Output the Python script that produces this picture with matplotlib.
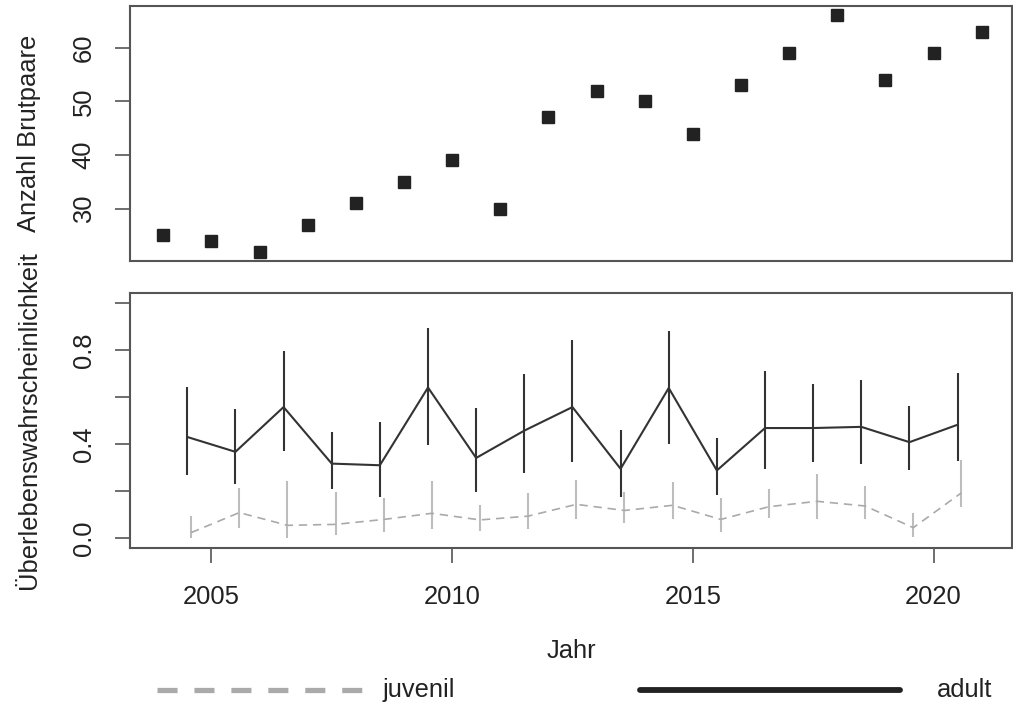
import matplotlib
matplotlib.use("Agg")
import matplotlib.pyplot as plt
from matplotlib.lines import Line2D
import numpy as np

plt.rcParams['font.family'] = ['Liberation Sans', 'DejaVu Sans']

# ---- data ----
years = [2004, 2005, 2006, 2007, 2008, 2009, 2010, 2011, 2012,
         2013, 2014, 2015, 2016, 2017, 2018, 2019, 2020, 2021]
brutpaare = [25, 24, 22, 27, 31, 35, 39, 30, 47, 52, 50, 44, 53, 59, 66, 54, 59, 63]

surv_years = [2004, 2005, 2006, 2007, 2008, 2009, 2010, 2011, 2012,
              2013, 2014, 2015, 2016, 2017, 2018, 2019, 2020]
adult_mean = [0.430, 0.367, 0.557, 0.317, 0.310, 0.640, 0.341, 0.457, 0.557,
              0.295, 0.638, 0.288, 0.468, 0.468, 0.473, 0.408, 0.482]
adult_lo = [0.267, 0.229, 0.370, 0.210, 0.175, 0.398, 0.197, 0.278, 0.323,
            0.176, 0.402, 0.182, 0.295, 0.325, 0.317, 0.288, 0.327]
adult_hi = [0.642, 0.550, 0.796, 0.453, 0.495, 0.892, 0.554, 0.698, 0.842,
            0.461, 0.882, 0.426, 0.712, 0.656, 0.673, 0.560, 0.701]
juv_mean = [0.024, 0.109, 0.055, 0.059, 0.080, 0.106, 0.078, 0.094, 0.144,
            0.118, 0.140, 0.080, 0.134, 0.157, 0.137, 0.045, 0.193]
juv_lo = [0.003, 0.045, 0.003, 0.013, 0.027, 0.041, 0.031, 0.041, 0.080,
          0.063, 0.080, 0.028, 0.085, 0.083, 0.080, 0.007, 0.134]
juv_hi = [0.094, 0.214, 0.243, 0.198, 0.172, 0.245, 0.140, 0.193, 0.247,
          0.196, 0.238, 0.172, 0.210, 0.274, 0.221, 0.106, 0.331]

x_ticks = [2005, 2010, 2015, 2020]
top_yticks = [30, 40, 50, 60]
bot_yticks = [0.0, 0.2, 0.4, 0.6, 0.8, 1.0]
bot_yticklabels = ["0.0", "", "0.4", "", "0.8", ""]

# ---- figure ----
W, H = 1013, 709
fig = plt.figure(figsize=(W / 100, H / 100), dpi=100)
FS = 18.4
frame_c = '#555555'
text_c = '#222222'

def px_axes(l, r, t, b):
    return fig.add_axes([l / W, (H - b) / H, (r - l) / W, (b - t) / H])

ax1 = px_axes(130, 1012, 6, 261)
ax2 = px_axes(130, 1012, 293.3, 547.7)

xlim = (2003.31, 2021.63)

for ax in (ax1, ax2):
    for s in ax.spines.values():
        s.set_color(frame_c)
        s.set_linewidth(1.5)
    ax.set_xlim(*xlim)
    ax.tick_params(axis='both', length=10.8, width=1.2, color=frame_c,
                   labelsize=FS, labelcolor=text_c)
    ax.tick_params(axis='y', pad=14)
    ax.tick_params(axis='x', pad=16)

# top panel
yrs = np.array(years)
ax1.plot(yrs, brutpaare, linestyle='none', marker='s', markersize=8.6,
         color='#222222')
ax1.set_ylim(20.24, 67.76)
ax1.set_yticks(top_yticks)
ax1.set_xticks([])
for lab in ax1.get_yticklabels():
    lab.set_rotation(90)
    lab.set_va('center')
ax1.set_ylabel("Anzahl Brutpaare", fontsize=FS, color=text_c, labelpad=22)

# bottom panel
sy = np.array(surv_years)
xa = sy + 0.5
xj = sy + 0.58
jm = np.array(juv_mean)
am = np.array(adult_mean)
ax2.errorbar(xj, jm, yerr=[jm - np.array(juv_lo), np.array(juv_hi) - jm],
             fmt='none', ecolor='#bdbdbd', elinewidth=1.5, capsize=0)
ax2.plot(xj, jm, linestyle=(0, (5, 3.5)), color='#aaaaaa', linewidth=1.2)
ax2.errorbar(xa, am, yerr=[am - np.array(adult_lo), np.array(adult_hi) - am],
             fmt='-', color='#333333', ecolor='#333333', linewidth=1.5,
             elinewidth=1.5, capsize=0)
ax2.set_ylim(-0.04, 1.04)
ax2.set_yticks(bot_yticks)
ax2.set_yticklabels(bot_yticklabels)
for lab in ax2.get_yticklabels():
    lab.set_rotation(90)
    lab.set_va('center')
ax2.set_xticks(x_ticks)
ax2.set_ylabel("Überlebenswahrscheinlichkeit", fontsize=FS, color=text_c,
               labelpad=22)
ax2.set_xlabel("Jahr", fontsize=FS, color=text_c, labelpad=22)

# legend (manual, below the plot)
ly = (H - 690) / H
fig.add_artist(Line2D([157 / W, 362 / W], [ly, ly], color='#aaaaaa',
                      linewidth=3.8, linestyle=(0, (3.8, 3.2)),
                      dash_capstyle='butt'))
fig.text(383 / W, ly, "juvenil", fontsize=FS, color=text_c,
         ha='left', va='center')
fig.add_artist(Line2D([640 / W, 900 / W], [ly, ly], color='#222222',
                      linewidth=4.2, solid_capstyle='round'))
fig.text(937 / W, ly, "adult", fontsize=FS, color=text_c,
         ha='left', va='center')

fig.savefig("out.png", dpi=100)
